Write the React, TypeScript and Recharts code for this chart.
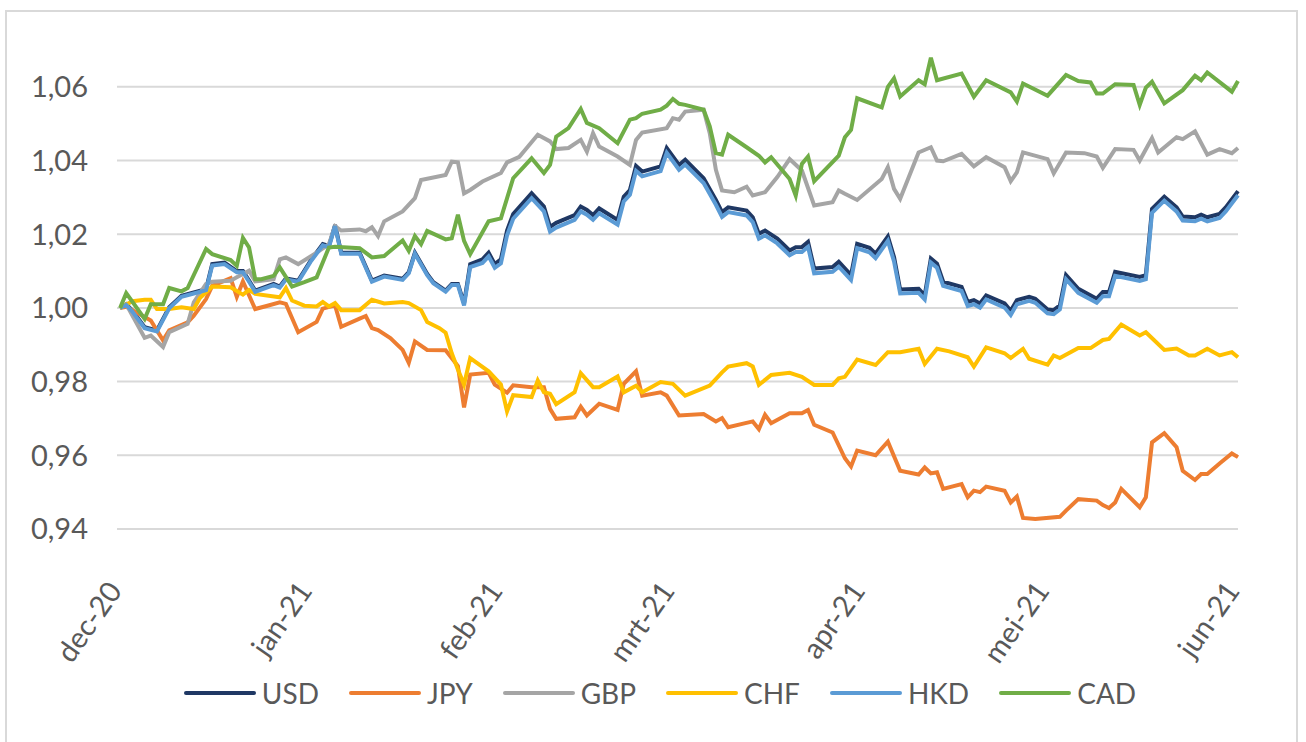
import React from "react";
import { LineChart, Line, XAxis, YAxis, CartesianGrid, Legend } from "recharts";

// x = calendar days since 1 dec 2020, y = rate rebased to 1,00
const MONTH_TICKS = [0, 31, 62, 90, 121, 151, 182];
const MONTH_LABELS = ["dec-20", "jan-21", "feb-21", "mrt-21", "apr-21", "mei-21", "jun-21"];
const Y_TICKS = [0.94, 0.96, 0.98, 1.0, 1.02, 1.04, 1.06];
const Y_DOMAIN: [number, number] = [0.94, 1.07];

const USD: [number, number][] = [
  [0, 1.0], [1, 1.001], [2, 0.9993], [4, 0.9948], [6, 0.9939], [8, 1.0002], [10, 1.0033], [12, 1.0042],
  [14, 1.0051], [15, 1.0119], [17, 1.0123], [19, 1.01], [20, 1.01], [21, 1.0074], [22, 1.0047], [25, 1.0065],
  [26, 1.0058], [27, 1.008], [29, 1.0074], [31, 1.0128], [33, 1.0173], [34, 1.0168], [35, 1.0225], [36, 1.015],
  [39, 1.015], [41, 1.0074], [43, 1.0088], [46, 1.0079], [47, 1.0097], [48, 1.015], [50, 1.0092], [51, 1.007],
  [53, 1.0047], [54, 1.0065], [55, 1.0065], [56, 1.0012], [57, 1.0119], [59, 1.0132], [60, 1.015], [61, 1.0119],
  [62, 1.0132], [63, 1.021], [64, 1.0255], [67, 1.0311], [69, 1.0275], [70, 1.022], [71, 1.0231], [74, 1.0252],
  [75, 1.0275], [76, 1.0266], [77, 1.0252], [78, 1.027], [81, 1.0239], [82, 1.0302], [83, 1.032], [84, 1.0385],
  [85, 1.037], [88, 1.0384], [89, 1.0434], [91, 1.0388], [92, 1.0402], [95, 1.0352], [97, 1.0293], [98, 1.026],
  [99, 1.0273], [102, 1.0264], [103, 1.0246], [104, 1.0201], [105, 1.021], [107, 1.0188], [109, 1.0156], [110, 1.0165],
  [111, 1.0165], [112, 1.0179], [113, 1.0107], [116, 1.0111], [117, 1.0125], [119, 1.0089], [120, 1.0174], [122, 1.0163],
  [123, 1.0147], [125, 1.0194], [126, 1.0138], [127, 1.005], [130, 1.0052], [131, 1.0034], [132, 1.0134], [133, 1.012],
  [134, 1.0071], [137, 1.0057], [138, 1.0016], [139, 1.0021], [140, 1.0012], [141, 1.0034], [144, 1.0012], [145, 0.9992],
  [146, 1.0021], [148, 1.003], [149, 1.0025], [151, 0.9996], [152, 0.9994], [153, 1.0007], [154, 1.0089], [156, 1.0052],
  [159, 1.0025], [160, 1.0043], [161, 1.0043], [162, 1.0098], [166, 1.0084], [167, 1.0089], [168, 1.0269], [170, 1.0302],
  [172, 1.0273], [173, 1.0248], [175, 1.0246], [176, 1.0253], [177, 1.0246], [179, 1.0255], [180, 1.0273], [182, 1.0317],
];

const JPY: [number, number][] = [
  [0, 1.0], [1, 1.0003], [3, 0.9985], [5, 0.9966], [7, 0.9912], [8, 0.9939], [11, 0.9961], [12, 0.9979],
  [14, 1.0024], [15, 1.006], [18, 1.0081], [19, 1.003], [20, 1.0072], [22, 0.9997], [24, 1.0006], [26, 1.0015],
  [27, 1.0011], [29, 0.9934], [32, 0.9962], [33, 0.9998], [35, 1.0007], [36, 0.9949], [39, 0.9971], [40, 0.9978],
  [41, 0.9945], [42, 0.994], [44, 0.9918], [46, 0.9886], [47, 0.9851], [48, 0.9909], [50, 0.9886], [53, 0.9885],
  [55, 0.9842], [56, 0.973], [57, 0.9819], [60, 0.9824], [61, 0.9792], [63, 0.977], [64, 0.979], [67, 0.9785],
  [69, 0.9785], [70, 0.9726], [71, 0.9699], [74, 0.9703], [75, 0.9732], [76, 0.9708], [78, 0.974], [81, 0.9723],
  [82, 0.9794], [84, 0.9828], [85, 0.9762], [88, 0.9771], [89, 0.9762], [91, 0.9708], [95, 0.9712], [97, 0.9692],
  [98, 0.9701], [99, 0.9676], [103, 0.9692], [104, 0.9671], [105, 0.971], [106, 0.9687], [109, 0.9714], [111, 0.9714],
  [112, 0.9723], [113, 0.9683], [116, 0.9662], [118, 0.9592], [119, 0.957], [120, 0.9613], [123, 0.96], [125, 0.9637],
  [127, 0.9558], [130, 0.9548], [131, 0.9567], [132, 0.9551], [133, 0.9554], [134, 0.9509], [137, 0.9522], [138, 0.9486],
  [139, 0.9504], [140, 0.95], [141, 0.9515], [144, 0.9504], [145, 0.9472], [146, 0.9488], [147, 0.943], [149, 0.9427],
  [153, 0.9433], [154, 0.945], [156, 0.9481], [159, 0.9477], [160, 0.9465], [161, 0.9457], [162, 0.9472], [163, 0.9509],
  [166, 0.9459], [167, 0.9486], [168, 0.9635], [170, 0.966], [172, 0.9622], [173, 0.9558], [175, 0.9533], [176, 0.9549],
  [177, 0.9549], [179, 0.9578], [181, 0.9605], [182, 0.9595],
];

const GBP: [number, number][] = [
  [0, 1.0], [1, 1.001], [4, 0.9919], [5, 0.9925], [7, 0.9894], [8, 0.9934], [11, 0.9957], [12, 1.0015],
  [14, 1.0065], [15, 1.0071], [18, 1.0074], [19, 1.0083], [21, 1.0101], [22, 1.0072], [23, 1.0074], [25, 1.0078],
  [26, 1.0132], [27, 1.0137], [29, 1.0119], [32, 1.015], [34, 1.0173], [35, 1.0222], [36, 1.021], [39, 1.0213],
  [40, 1.0208], [41, 1.0219], [42, 1.0195], [43, 1.0235], [46, 1.0262], [48, 1.0298], [49, 1.0347], [53, 1.0361],
  [54, 1.0397], [55, 1.0395], [56, 1.0311], [57, 1.032], [59, 1.0343], [62, 1.0366], [63, 1.0395], [65, 1.041],
  [66, 1.043], [68, 1.047], [70, 1.0452], [71, 1.0431], [73, 1.0434], [75, 1.0456], [76, 1.0424], [77, 1.0474],
  [78, 1.0438], [81, 1.0411], [83, 1.0388], [84, 1.0456], [85, 1.0476], [89, 1.0488], [90, 1.0515], [91, 1.0511],
  [92, 1.0533], [95, 1.0538], [96, 1.0474], [97, 1.0375], [98, 1.0319], [100, 1.0314], [102, 1.0329], [103, 1.0305],
  [105, 1.0314], [107, 1.0355], [109, 1.0404], [111, 1.0373], [113, 1.0278], [116, 1.0287], [117, 1.0319], [118, 1.031],
  [120, 1.0293], [124, 1.035], [125, 1.0382], [126, 1.0323], [127, 1.0296], [130, 1.0422], [132, 1.0436], [133, 1.04],
  [134, 1.0398], [137, 1.0418], [139, 1.0384], [141, 1.0409], [144, 1.0382], [145, 1.0344], [146, 1.0368], [147, 1.0422],
  [151, 1.0404], [152, 1.0365], [154, 1.0422], [157, 1.042], [159, 1.0411], [160, 1.038], [162, 1.0431], [165, 1.0429],
  [166, 1.04], [168, 1.0461], [169, 1.0422], [172, 1.0463], [173, 1.0458], [175, 1.0479], [177, 1.0416], [179, 1.0431],
  [181, 1.042], [182, 1.0434],
];

const CHF: [number, number][] = [
  [0, 1.0], [2, 1.0018], [4, 1.0022], [5, 1.0022], [6, 0.9997], [8, 0.9997], [10, 1.0002], [12, 0.9997],
  [13, 1.0027], [15, 1.0058], [18, 1.0056], [20, 1.0036], [21, 1.0049], [22, 1.0038], [26, 1.0029], [27, 1.0054],
  [28, 1.002], [30, 1.0006], [32, 1.0004], [33, 1.0016], [34, 1.0004], [35, 1.0013], [36, 0.9994], [39, 0.9994],
  [41, 1.0022], [43, 1.0012], [46, 1.0016], [47, 1.0013], [49, 0.9994], [50, 0.9962], [52, 0.9945], [53, 0.9933],
  [54, 0.9877], [55, 0.9833], [56, 0.9792], [57, 0.9864], [60, 0.9828], [62, 0.9792], [63, 0.9719], [64, 0.9763],
  [67, 0.9758], [68, 0.9803], [69, 0.9771], [70, 0.9767], [71, 0.9739], [74, 0.9771], [75, 0.9823], [77, 0.9785],
  [78, 0.9785], [81, 0.9814], [82, 0.9771], [84, 0.9789], [85, 0.9771], [88, 0.9799], [90, 0.9794], [92, 0.9762],
  [96, 0.9789], [98, 0.9825], [99, 0.9841], [102, 0.985], [103, 0.9841], [104, 0.9791], [106, 0.9818], [109, 0.9824],
  [111, 0.9813], [113, 0.9791], [116, 0.9791], [117, 0.9809], [118, 0.9813], [120, 0.986], [123, 0.9845], [125, 0.988],
  [127, 0.988], [130, 0.9889], [131, 0.9848], [133, 0.9889], [135, 0.9882], [138, 0.9866], [139, 0.9841], [141, 0.9893],
  [144, 0.9877], [145, 0.9864], [147, 0.9889], [148, 0.9862], [151, 0.9846], [152, 0.9871], [153, 0.9864], [156, 0.9891],
  [158, 0.9891], [160, 0.9913], [161, 0.9916], [163, 0.9955], [166, 0.9925], [167, 0.9934], [170, 0.9886], [172, 0.989],
  [174, 0.9871], [175, 0.9871], [177, 0.9889], [179, 0.9871], [181, 0.988], [182, 0.9866],
];

const HKD: [number, number][] = [
  [0, 1.0], [1, 1.0008], [2, 0.999], [4, 0.9945], [6, 0.9936], [8, 0.9999], [10, 1.003], [12, 1.0039],
  [14, 1.0048], [15, 1.0115], [17, 1.0119], [19, 1.0097], [20, 1.0097], [21, 1.0071], [22, 1.0044], [25, 1.0062],
  [26, 1.0055], [27, 1.0077], [29, 1.0071], [31, 1.0125], [33, 1.017], [34, 1.0165], [35, 1.0222], [36, 1.0147],
  [39, 1.0147], [41, 1.0071], [43, 1.0085], [46, 1.0076], [47, 1.0094], [48, 1.0147], [50, 1.0089], [51, 1.0067],
  [53, 1.0044], [54, 1.0062], [55, 1.0062], [56, 1.0007], [57, 1.0111], [59, 1.0122], [60, 1.014], [61, 1.0109],
  [62, 1.0121], [63, 1.0197], [64, 1.0242], [67, 1.0298], [69, 1.0262], [70, 1.0207], [71, 1.0218], [74, 1.0239],
  [75, 1.0262], [76, 1.0253], [77, 1.0239], [78, 1.0257], [81, 1.0226], [82, 1.0289], [83, 1.0307], [84, 1.0372],
  [85, 1.0357], [88, 1.0371], [89, 1.0421], [91, 1.0375], [92, 1.0389], [95, 1.0339], [97, 1.028], [98, 1.0247],
  [99, 1.026], [102, 1.0251], [103, 1.0233], [104, 1.0188], [105, 1.0197], [107, 1.0175], [109, 1.0143], [110, 1.0152],
  [111, 1.0152], [112, 1.0166], [113, 1.0094], [116, 1.0098], [117, 1.0112], [119, 1.0076], [120, 1.0162], [122, 1.0151],
  [123, 1.0135], [125, 1.0182], [126, 1.0126], [127, 1.0039], [130, 1.0041], [131, 1.0023], [132, 1.0123], [133, 1.0109],
  [134, 1.006], [137, 1.0046], [138, 1.0005], [139, 1.001], [140, 1.0001], [141, 1.0023], [144, 1.0001], [145, 0.9981],
  [146, 1.001], [148, 1.0019], [149, 1.0014], [151, 0.9985], [152, 0.9983], [153, 0.9996], [154, 1.0078], [156, 1.0041],
  [159, 1.0014], [160, 1.0032], [161, 1.0032], [162, 1.0087], [166, 1.0073], [167, 1.0078], [168, 1.0258], [170, 1.0291],
  [172, 1.0262], [173, 1.0237], [175, 1.0235], [176, 1.0242], [177, 1.0235], [179, 1.0244], [180, 1.0262], [182, 1.0306],
];

const CAD: [number, number][] = [
  [0, 1.0], [1, 1.004], [4, 0.997], [5, 1.001], [7, 1.001], [8, 1.0054], [10, 1.0045], [11, 1.0054],
  [14, 1.016], [15, 1.0146], [18, 1.013], [19, 1.0114], [20, 1.019], [21, 1.0164], [22, 1.0078], [23, 1.0078],
  [25, 1.0087], [26, 1.011], [28, 1.0058], [30, 1.007], [32, 1.0083], [34, 1.0164], [35, 1.0166], [39, 1.0162],
  [41, 1.0137], [43, 1.0141], [46, 1.0183], [47, 1.0155], [48, 1.0195], [49, 1.0173], [50, 1.0209], [53, 1.0186],
  [54, 1.0189], [55, 1.0253], [56, 1.0182], [57, 1.0146], [60, 1.0235], [62, 1.0243], [64, 1.0352], [67, 1.0406],
  [69, 1.0366], [70, 1.0388], [71, 1.0465], [73, 1.0488], [75, 1.054], [76, 1.0502], [78, 1.0488], [81, 1.0447],
  [83, 1.0511], [84, 1.0515], [85, 1.0527], [88, 1.0538], [89, 1.0549], [90, 1.0567], [91, 1.0554], [92, 1.0551],
  [95, 1.0538], [96, 1.0493], [97, 1.042], [98, 1.0416], [99, 1.047], [102, 1.0436], [104, 1.0413], [105, 1.0395],
  [106, 1.0409], [109, 1.035], [110, 1.0305], [111, 1.0391], [112, 1.0411], [113, 1.0344], [117, 1.0413], [118, 1.0463],
  [119, 1.0483], [120, 1.0569], [124, 1.0544], [125, 1.06], [126, 1.0623], [127, 1.0574], [130, 1.0618], [131, 1.0607],
  [132, 1.0679], [133, 1.0618], [137, 1.0636], [139, 1.0573], [141, 1.0618], [145, 1.0585], [146, 1.056], [147, 1.0609],
  [151, 1.0576], [154, 1.0632], [156, 1.0616], [158, 1.0612], [159, 1.0582], [160, 1.0582], [162, 1.0607], [165, 1.0605],
  [166, 1.0551], [167, 1.0598], [168, 1.0614], [170, 1.0555], [173, 1.0591], [175, 1.063], [176, 1.0618], [177, 1.0639],
  [181, 1.0587], [182, 1.0616],
];

const SERIES = [
  { name: "USD", color: "#1f3864", points: USD },
  { name: "JPY", color: "#ed7d31", points: JPY },
  { name: "GBP", color: "#a5a5a5", points: GBP },
  { name: "CHF", color: "#ffc000", points: CHF },
  { name: "HKD", color: "#5b9bd5", points: HKD },
  { name: "CAD", color: "#70ad47", points: CAD },
];

const FONT = "Lato, 'Open Sans', sans-serif";
const TEXT = "#595959";

const fmtRate = (v: number) => v.toFixed(2).replace(".", ",");

// gridlines only at the labelled ticks, not at the top of the domain
const gridRows = (p: any) => {
  const o = p && p.offset;
  if (!o) return [];
  const [lo, hi] = Y_DOMAIN;
  return Y_TICKS.map((t) => o.top + ((hi - t) / (hi - lo)) * o.height);
};

const MonthTick = (props: any) => {
  const { x, y, payload } = props;
  const idx = MONTH_TICKS.indexOf(payload.value);
  const ax = x + 3;
  const ay = y + 62;
  return (
    <text
      x={ax}
      y={ay}
      transform={`rotate(-55, ${ax}, ${ay})`}
      textAnchor="end"
      fontSize={29}
      fontFamily={FONT}
      fill={TEXT}
    >
      {MONTH_LABELS[idx]}
    </text>
  );
};

// legend keeps the series order of the original (no alphabetical sort)
const LegendRow = () => (
  <div
    style={{
      display: "flex",
      justifyContent: "center",
      alignItems: "center",
      height: 40,
      paddingLeft: 14,
      fontFamily: FONT,
      fontSize: 28,
      color: TEXT,
    }}
  >
    {SERIES.map((s, i) => (
      <div
        key={s.name}
        style={{ display: "flex", alignItems: "center", marginLeft: i === 0 ? 0 : 30 }}
      >
        <span
          style={{
            display: "inline-block",
            width: 72,
            height: 4,
            borderRadius: 2,
            background: s.color,
            marginRight: 6,
          }}
        />
        <span>{s.name}</span>
      </div>
    ))}
  </div>
);

export default function App() {
  return (
    <div
      style={{
        position: "absolute",
        left: 0,
        top: 0,
        width: 1306,
        height: 742,
        overflow: "hidden",
        background: "#ffffff",
      }}
    >
      <div
        style={{
          position: "absolute",
          left: 5,
          top: 10,
          width: 1289,
          height: 780,
          border: "2px solid #d9d9d9",
        }}
      />
      <div style={{ position: "absolute", left: 0, top: 0 }}>
        <LineChart width={1306} height={742} margin={{ top: 50, right: 68, bottom: 29, left: 0 }}>
          <CartesianGrid
            vertical={false}
            horizontalCoordinatesGenerator={gridRows}
            stroke="#d9d9d9"
            strokeWidth={2}
          />
          <XAxis
            type="number"
            dataKey="d"
            domain={[-0.5, 182]}
            ticks={MONTH_TICKS}
            interval={0}
            height={144}
            axisLine={false}
            tickLine={false}
            tickSize={0}
            tickMargin={0}
            tick={<MonthTick />}
            allowDuplicatedCategory={false}
          />
          <YAxis
            type="number"
            domain={Y_DOMAIN}
            ticks={Y_TICKS}
            allowDataOverflow
            width={117}
            axisLine={false}
            tickLine={false}
            tickSize={0}
            tickMargin={29}
            tickFormatter={fmtRate}
            tick={{ fontSize: 29, fill: TEXT, fontFamily: FONT }}
          />
          <Legend
            verticalAlign="bottom"
            content={<LegendRow />}
            wrapperStyle={{ left: 0, width: 1306 }}
          />
          {SERIES.map((s) => (
            <Line
              key={s.name}
              name={s.name}
              data={s.points.map(([d, v]) => ({ d, v }))}
              dataKey="v"
              type="linear"
              stroke={s.color}
              strokeWidth={4}
              dot={false}
              activeDot={false}
              isAnimationActive={false}
            />
          ))}
        </LineChart>
      </div>
    </div>
  );
}
